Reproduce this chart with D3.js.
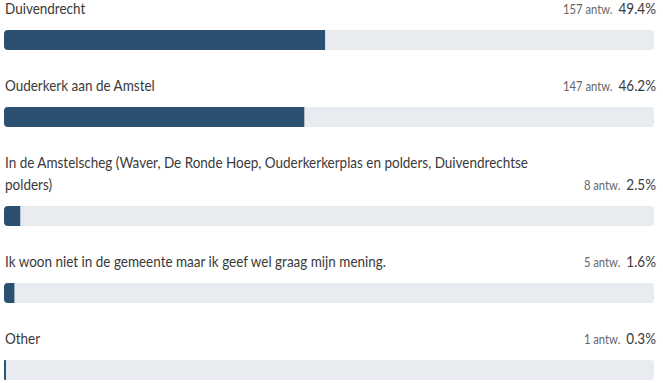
<!DOCTYPE html>
<html>
<head>
<meta charset="utf-8">
<script src="https://cdn.jsdelivr.net/npm/d3@7"></script>
<style>
  html, body { margin: 0; padding: 0; background: #ffffff; }
  svg { display: block; }
</style>
</head>
<body>
<svg id="chart" width="663" height="383"></svg>
<script>
const categories = [
  "Duivendrecht",
  "Ouderkerk aan de Amstel",
  "In de Amstelscheg (Waver, De Ronde Hoep, Ouderkerkerplas en polders, Duivendrechtse polders)",
  "Ik woon niet in de gemeente maar ik geef wel graag mijn mening.",
  "Other"
];
const counts = [157, 147, 8, 5, 1];
const percentages = [49.4, 46.2, 2.5, 1.6, 0.3];
const countSuffix = "antw.";

const W = 663, H = 383;
const left = 4, right = 654;
const barH = 20, lineH = 22, rowGap = 77, barOffset = 30, labelOffset = 14;
const wrapWidth = 545;
const SX = 0.9; // horizontal condensing to mimic a narrower face
const FONT = "Lato, 'Open Sans', sans-serif";

const svg = d3.select("#chart");
const x = d3.scaleLinear().domain([0, 100]).range([0, right - left]);

function measure(str, size) {
  const t = svg.append("text").attr("font-family", FONT).attr("font-size", size).style("visibility", "hidden").text(str);
  const w = t.node().getComputedTextLength() * SX;
  t.remove();
  return w;
}

function wrapText(str, maxW) {
  const words = str.split(" ");
  const lines = [];
  let cur = "";
  words.forEach(w => {
    const test = cur ? cur + " " + w : w;
    if (measure(test, 15) > maxW && cur) { lines.push(cur); cur = w; }
    else cur = test;
  });
  if (cur) lines.push(cur);
  return lines;
}

function condText(sel, tx, ty) {
  return sel.append("text").attr("transform", `translate(${tx},${ty}) scale(${SX},1)`);
}

const rows = categories.map((c, i) => ({ label: c, lines: wrapText(c, wrapWidth), count: counts[i], pct: percentages[i] }));
let yTop = 0;
rows.forEach(r => { r.top = yTop; yTop += rowGap + (r.lines.length - 1) * lineH; });

const g = svg.selectAll("g.row").data(rows).join("g").attr("class", "row")
  .attr("transform", d => `translate(0,${d.top})`);

g.each(function(d) {
  const row = d3.select(this);
  const extra = (d.lines.length - 1) * lineH;
  d.lines.forEach((l, j) => {
    condText(row, 5, labelOffset + j * lineH)
      .attr("font-family", FONT).attr("font-size", 15).attr("fill", "#3a3a3a").text(l);
  });
  const by = barOffset + extra;
  const baseY = labelOffset + extra;
  const pctStr = d3.format(".1f")(d.pct) + "%";
  const pctEnd = right + 2;
  condText(row, pctEnd, baseY).attr("text-anchor", "end")
    .attr("font-family", FONT).attr("font-size", 15).attr("fill", "#3a3a3a")
    .text(pctStr);
  const cEnd = pctEnd - measure(pctStr, 15) - 6;
  condText(row, cEnd, baseY).attr("text-anchor", "end")
    .attr("font-family", FONT).attr("font-size", 12.5).attr("fill", "#666")
    .text(d.count + " " + countSuffix);
  row.append("rect").attr("x", left).attr("y", by).attr("width", right - left).attr("height", barH)
    .attr("rx", 4).attr("fill", "#e8ebf0");
  const w = x(d.pct);
  const r = Math.min(4, w / 2);
  const path = `M${left + r},${by} H${left + w} V${by + barH} H${left + r} A${r},${r} 0 0 1 ${left},${by + barH - r} V${by + r} A${r},${r} 0 0 1 ${left + r},${by} Z`;
  row.append("path").attr("d", path).attr("fill", "#2c5071");
});
</script>
</body>
</html>
